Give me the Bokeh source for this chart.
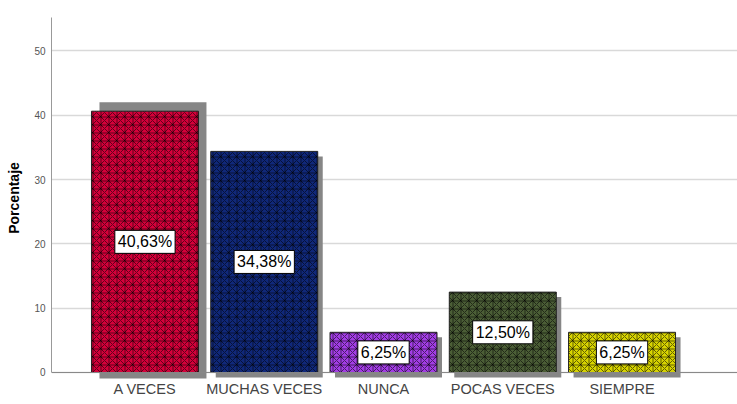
from bokeh.plotting import figure
from bokeh.models import (ColumnDataSource, Label, Range1d, FixedTicker, Span)
from bokeh.embed import file_html
from bokeh.resources import INLINE

categories = ["A VECES", "MUCHAS VECES", "NUNCA", "POCAS VECES", "SIEMPRE"]
values = [40.63, 34.38, 6.25, 12.50, 6.25]
labels = ["40,63%", "34,38%", "6,25%", "12,50%", "6,25%"]
colors = ["#d5003a", "#10287a", "#a33de6", "#4b5e36", "#d8d400"]
y_ticks = [0, 10, 20, 30, 40, 50]

xs = list(range(1, len(categories) + 1))
bar_w = 0.897
px_x = 1 / 119.3
px_y = 1 / 6.43
# shadow offsets in pixels; the first bar's shadow is raised
sh_dx = [8, 5, 5, 5, 5]
sh_top = [9, -5, -5, -5, -5]
sh_bot = [-10, -5, -5, -5, -5]

src = ColumnDataSource(dict(
    x=xs,
    left=[x - bar_w / 2 for x in xs],
    right=[x + bar_w / 2 for x in xs],
    top=values,
    bottom=[0] * len(xs),
    sl=[x - bar_w / 2 + d * px_x for x, d in zip(xs, sh_dx)],
    sr=[x + bar_w / 2 + d * px_x for x, d in zip(xs, sh_dx)],
    st=[v + t * px_y for v, t in zip(values, sh_top)],
    sb=[b * px_y for b in sh_bot],
    color=colors,
))

p = figure(width=737, height=404, output_backend="svg", toolbar_location=None,
           x_range=Range1d(0.2163, 5.968), y_range=Range1d(-0.933, 55.2),
           min_border_left=51, min_border_top=17, min_border_right=0, min_border_bottom=26)
p.outline_line_color = None
p.background_fill_color = "white"

p.xgrid.grid_line_color = None
p.ygrid.grid_line_color = "#d9d9d9"
p.ygrid.grid_line_width = 1.5
p.ygrid.ticker = FixedTicker(ticks=y_ticks)

p.quad(left="sl", right="sr", top="st", bottom="sb", source=src,
       fill_color="#868686", line_color=None)
p.quad(left="left", right="right", top="top", bottom="bottom", source=src,
       fill_color="color", line_color="#222222", line_width=1,
       hatch_pattern="criss_cross", hatch_color="black", hatch_alpha=0.55,
       hatch_scale=8, hatch_weight=1)

p.add_layout(Span(location=0, dimension="width", line_color="#888888", line_width=1))

for x, v, t in zip(xs, values, labels):
    p.add_layout(Label(x=x, y=v / 2, text=t, text_align="center",
                       text_baseline="middle", text_font_size="16px",
                       text_color="black", text_font="Liberation Sans",
                       background_fill_color="white", border_line_color="black",
                       border_line_width=1, padding=3))

p.xaxis.ticker = FixedTicker(ticks=xs)
p.xaxis.major_label_overrides = {x: c for x, c in zip(xs, categories)}
p.xaxis.axis_line_color = None
p.xaxis.major_tick_line_color = None
p.xaxis.minor_tick_line_color = None
p.xaxis.major_label_text_font = "Liberation Sans"
p.xaxis.major_label_text_font_size = "14.5px"
p.xaxis.major_label_text_color = "#444444"
p.xaxis.major_label_standoff = -4

p.yaxis.ticker = FixedTicker(ticks=y_ticks)
p.yaxis.bounds = (0, 55.2)
p.yaxis.axis_line_color = "#999999"
p.yaxis.major_tick_line_color = None
p.yaxis.minor_tick_line_color = None
p.yaxis.major_label_text_font = "Liberation Sans"
p.yaxis.major_label_text_font_size = "10px"
p.yaxis.major_label_text_color = "#555555"
p.yaxis.major_label_standoff = 0
p.yaxis.axis_label = "Porcentaje"
p.yaxis.axis_label_text_font = "Liberation Sans"
p.yaxis.axis_label_text_font_size = "14px"
p.yaxis.axis_label_text_font_style = "bold"
p.yaxis.axis_label_text_color = "black"
p.yaxis.axis_label_standoff = 9

open("out.html", "w").write(file_html(p, INLINE))
